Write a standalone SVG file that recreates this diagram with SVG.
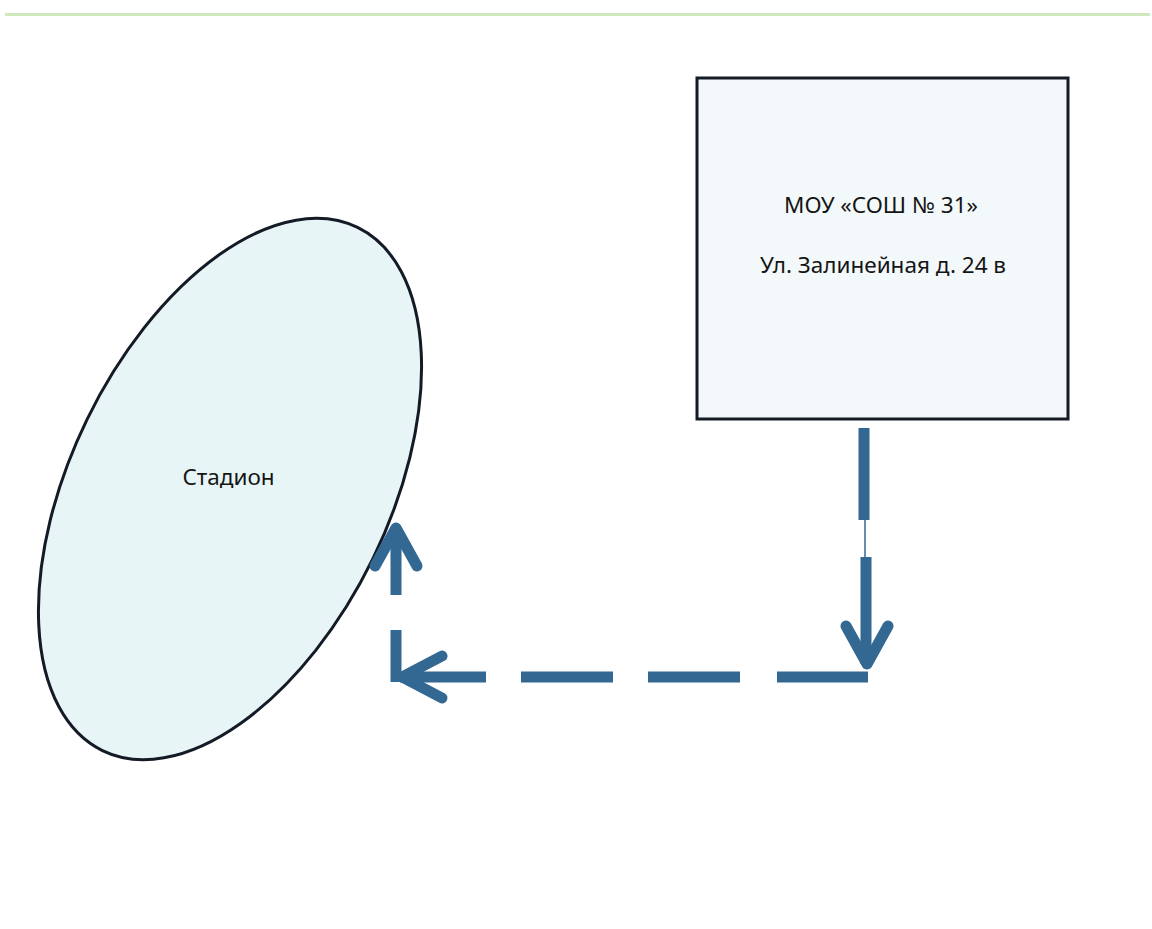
<svg xmlns="http://www.w3.org/2000/svg" width="1152" height="929" viewBox="0 0 1152 929">
  <style>
    .lbl { font-family: "Noto Sans", "Liberation Sans", sans-serif; font-size: 22.5px; fill: #151515; text-anchor: middle; }
    .shape { stroke: #141a26; stroke-width: 3; }
    .dash { stroke: #336892; stroke-width: 11; fill: none; }
    .head { stroke: #336892; stroke-width: 11; fill: none; stroke-linecap: round; stroke-linejoin: round; }
  </style>
  <rect x="0" y="0" width="1152" height="929" fill="#ffffff"/>
  <line x1="5" y1="14.5" x2="1150" y2="14.5" stroke="#cfe8bd" stroke-width="3"/>

  <g id="stadium">
    <ellipse class="shape" cx="230" cy="489" rx="291" ry="159" transform="rotate(-64 230 489)" fill="#e8f5f6"/>
    <text class="lbl" x="228.5" y="485">Стадион</text>
  </g>

  <g id="school">
    <rect class="shape" x="697" y="78" width="371" height="341" fill="#f3f9fa"/>
    <text class="lbl" x="881" y="213">МОУ «СОШ № 31»</text>
    <text class="lbl" x="883" y="273">Ул. Залинейная д. 24 в</text>
  </g>

  <g id="connectors">
    <!-- down from school -->
    <line class="dash" x1="864" y1="428" x2="864" y2="520"/>
    <line x1="865" y1="520" x2="865" y2="557" stroke="#336892" stroke-width="1.5"/>
    <line class="dash" x1="866" y1="557" x2="866" y2="664"/>
    <polyline class="head" points="846,626 867,664 888,626"/>
    <!-- horizontal to the left -->
    <line class="dash" x1="868" y1="677" x2="777" y2="677"/>
    <line class="dash" x1="740" y1="677" x2="648" y2="677"/>
    <line class="dash" x1="613" y1="677" x2="521" y2="677"/>
    <line class="dash" x1="486" y1="677" x2="400" y2="677"/>
    <polyline class="head" points="442,656 402,677 442,698"/>
    <!-- up to stadium -->
    <line class="dash" x1="396" y1="682" x2="396" y2="630"/>
    <line class="dash" x1="396" y1="595" x2="396" y2="528"/>
    <polyline class="head" points="375,566 396,528 417,566"/>
  </g>
</svg>
